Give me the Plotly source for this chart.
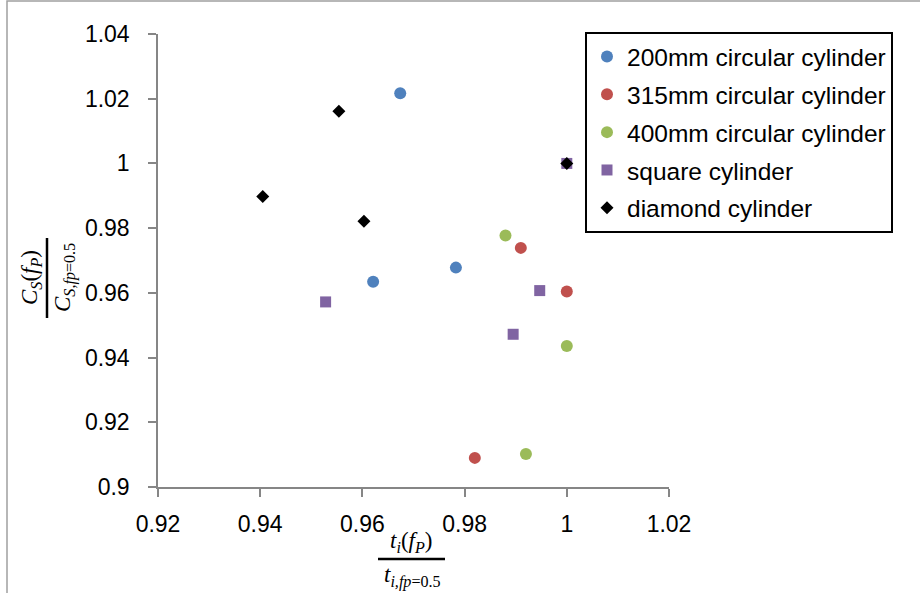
import plotly.graph_objects as go

# ---- data ----
names = ["200mm circular cylinder", "315mm circular cylinder", "400mm circular cylinder",
         "square cylinder", "diamond cylinder"]
x_200 = [0.9674, 0.9621, 0.9783]
y_200 = [1.0217, 0.9634, 0.9678]
x_315 = [0.9910, 1.0000, 0.9820]
y_315 = [0.9739, 0.9604, 0.9090]
x_400 = [0.9880, 1.0000, 0.9920]
y_400 = [0.9777, 0.9436, 0.9102]
x_sq = [0.9528, 0.9947, 0.9895, 1.0000]
y_sq = [0.9572, 0.9607, 0.9472, 1.0000]
x_di = [0.9554, 0.9603, 0.9405, 1.0000]
y_di = [1.0161, 0.9821, 0.9898, 1.0000]

colors = ["#4F81BD", "#C0504D", "#9BBB59", "#8064A2", "#000000"]
symbols = ["circle", "circle", "circle", "square", "diamond"]
sizes = [12, 12, 12, 11, 10]
xs = [x_200, x_315, x_400, x_sq, x_di]
ys = [y_200, y_315, y_400, y_sq, y_di]

W, H = 920, 593
L, R, T, B = 158, 669, 34, 487

fig = go.Figure()
for i in range(5):
    fig.add_trace(go.Scatter(x=xs[i], y=ys[i], mode="markers", name=names[i],
                             legendgroup=str(i),
                             marker=dict(color=colors[i], symbol=symbols[i], size=sizes[i],
                                         line=dict(width=0))))

def px(x):
    return (x - L) / (R - L)

def py(y):
    return (B - y) / (B - T)

tickfont = dict(family="Liberation Sans, Arial", size=23, color="#000000")
axis_common = dict(showgrid=False, zeroline=False, showline=True, linecolor="#868686",
                   linewidth=1.5, ticks="outside", ticklen=8, tickcolor="#868686",
                   tickwidth=1.5, tickfont=tickfont, dtick=0.02)

fig.update_layout(
    width=W, height=H,
    margin=dict(l=L, r=W - R, t=T, b=H - B, pad=0),
    paper_bgcolor="white", plot_bgcolor="white",
    xaxis=dict(range=[0.92, 1.02], tick0=0.92, ticklabelstandoff=8, **axis_common),
    yaxis=dict(range=[0.9, 1.04], tick0=0.9, ticklabelstandoff=14, **axis_common),
    legend=dict(x=px(585), y=py(32), xanchor="left", yanchor="top",
                bordercolor="#000000", borderwidth=2, bgcolor="white",
                font=dict(family="Liberation Sans, Arial", size=24.5, color="#000000"),
                tracegroupgap=3, itemwidth=30, entrywidth=320),
    showlegend=True,
)

mfont = dict(family="Liberation Serif, DejaVu Serif", size=23, color="#000000")
ann = dict(xref="paper", yref="paper", showarrow=False, xanchor="center", yanchor="middle",
           font=mfont)
# y-axis title (rotated fraction)
fig.add_annotation(x=px(31), y=py(278), text="<i>C<sub>S</sub></i>(<i>f<sub>P</sub></i>)",
                   textangle=-90, **ann)
fig.add_annotation(x=px(64), y=py(278), text="<i>C<sub>S,fp</sub></i><sub>=0.5</sub>",
                   textangle=-90, **ann)
fig.add_shape(type="line", xref="paper", yref="paper", x0=px(47), x1=px(47),
              y0=py(238), y1=py(318), line=dict(color="black", width=2.5))
# x-axis title
fig.add_annotation(x=px(411), y=py(542), text="<i>t<sub>i</sub></i>(<i>f<sub>P</sub></i>)", **ann)
fig.add_annotation(x=px(412), y=py(576), text="<i>t<sub>i,fp</sub></i><sub>=0.5</sub>", **ann)
fig.add_shape(type="line", xref="paper", yref="paper", x0=px(378), x1=px(445),
              y0=py(559), y1=py(559), line=dict(color="black", width=2.5))
# outer chart frame (partially visible)
fig.add_shape(type="rect", xref="paper", yref="paper", x0=px(7), x1=px(1200),
              y0=py(900), y1=py(1), line=dict(color="#A0A0A0", width=1.5), layer="below")

fig.write_html("out.html")
